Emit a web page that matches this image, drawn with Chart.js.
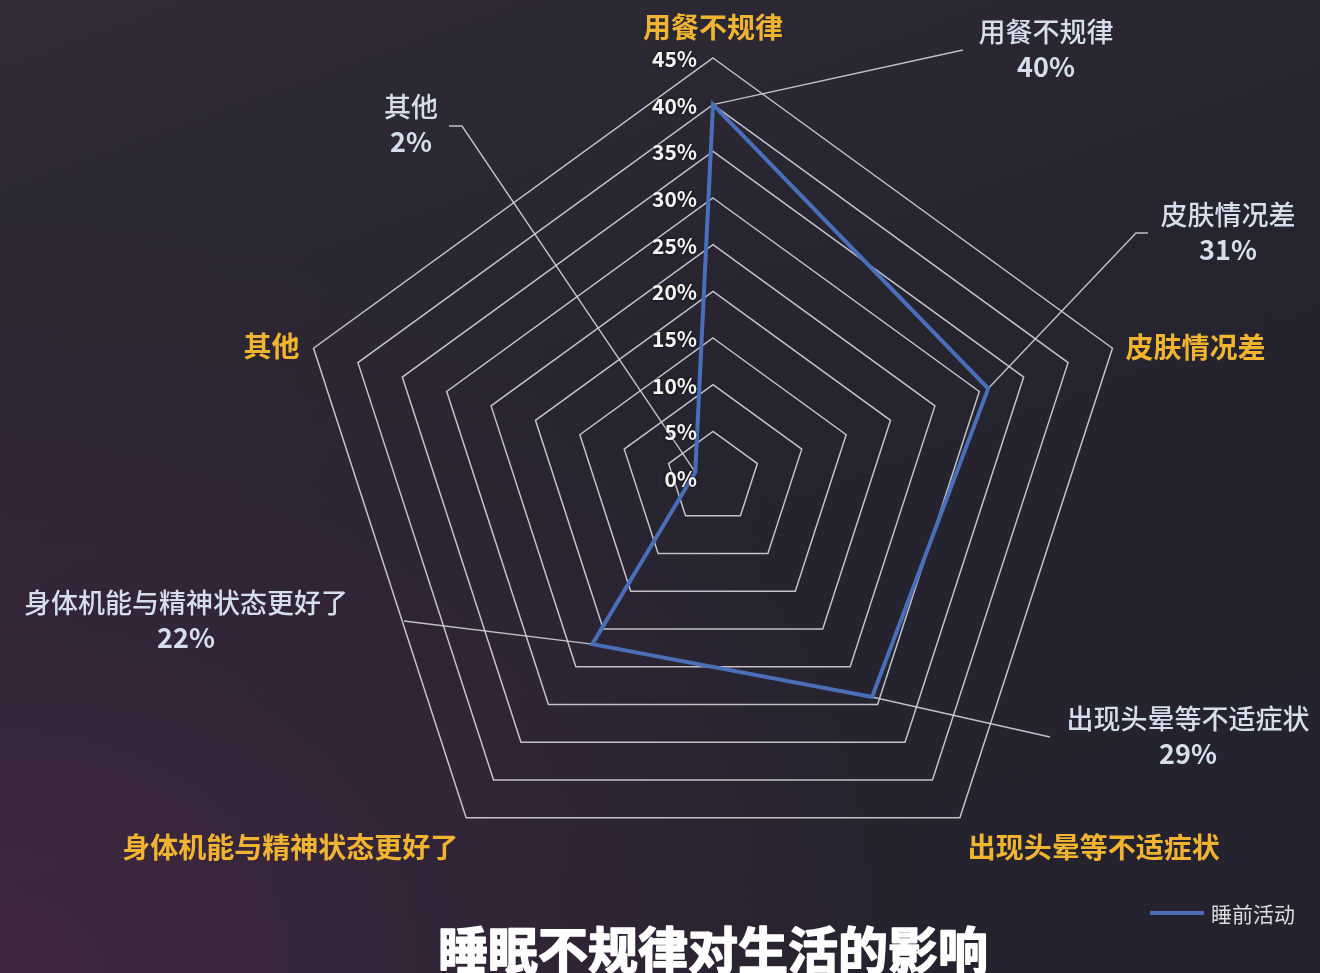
<!DOCTYPE html>
<html>
<head>
<meta charset="utf-8">
<title>睡眠不规律对生活的影响</title>
<script src="https://cdn.jsdelivr.net/npm/chart.js@4.4.1/dist/chart.umd.min.js"></script>
<style>
  html, body { margin: 0; padding: 0; width: 1320px; height: 973px; overflow: hidden; }
  body {
    background:
      radial-gradient(ellipse 950px 760px at 0% 100%, rgba(72, 40, 70, 0.75), rgba(72, 40, 70, 0) 100%),
      linear-gradient(160deg, #302b37 0%, #26242f 45%, #24222e 100%);
  }
  canvas { display: block; }
</style>
</head>
<body>
<canvas id="radar" width="1320" height="973"></canvas>
<script>
// ---- data ----
const categories = ['用餐不规律', '皮肤情况差', '出现头晕等不适症状', '身体机能与精神状态更好了', '其他'];
const seriesName = '睡前活动';
const seriesValues = [40, 31, 29, 22, 2];
const tickValues = [0, 5, 10, 15, 20, 25, 30, 35, 40, 45];
const tickLabels = ['0%', '5%', '10%', '15%', '20%', '25%', '30%', '35%', '40%', '45%'];
const chartTitle = '睡眠不规律对生活的影响';

// ---- layout / style ----
const FONT = '"Noto Sans CJK SC", "Noto Sans", sans-serif';
const COLORS = {
  series: '#4a6fb8',
  grid: 'rgba(212, 212, 218, 0.9)',
  tick: '#f4f4f4',
  category: '#f0b431',
  callout: '#d6ddec',
  leader: 'rgba(210, 210, 215, 0.9)',
  title: '#ffffff',
  legend: '#dcdcdc'
};
// category labels: offset from the outer vertex of each spoke
const categoryPlacement = [
  { dx: 0, dy: -31, align: 'center' },
  { dx: 13, dy: -1, align: 'left' },
  { dx: 8, dy: 30, align: 'left' },
  { dx: -8, dy: 30, align: 'right' },
  { dx: -14, dy: -2, align: 'right' }
];
// value callouts: leader elbows and text block centre
const calloutPlacement = [
  { path: [[963, 50]], x: 1046, y: 32 },
  { path: [[1136, 233], [1148, 233]], x: 1228, y: 215 },
  { path: [[1050, 737]], x: 1188, y: 719 },
  { path: [[404, 621]], x: 186, y: 603 },
  { path: [[462, 126], [449, 126]], x: 411, y: 107 }
];
const CALLOUT_LINE_GAP = 35;

const decorations = {
  id: 'decorations',
  beforeDatasetsDraw(chart) {
    const ctx = chart.ctx;
    const pts = chart.getDatasetMeta(0).data;
    ctx.save();
    ctx.strokeStyle = COLORS.leader;
    ctx.lineWidth = 1.4;
    pts.forEach((p, i) => {
      const c = calloutPlacement[i];
      ctx.beginPath();
      ctx.moveTo(p.x, p.y);
      c.path.forEach(([x, y]) => ctx.lineTo(x, y));
      ctx.stroke();
    });
    ctx.restore();
  },
  afterDraw(chart) {
    const ctx = chart.ctx;
    const r = chart.scales.r;
    ctx.save();

    // radial tick labels, set just left of the vertical spoke
    ctx.font = 'bold 21px ' + FONT;
    ctx.fillStyle = COLORS.tick;
    ctx.textAlign = 'right';
    ctx.textBaseline = 'middle';
    ctx.shadowColor = 'rgba(0,0,0,0.8)';
    ctx.shadowBlur = 3;
    tickValues.forEach((v, i) => {
      const y = r.yCenter - r.getDistanceFromCenterForValue(v);
      ctx.fillText(tickLabels[i], r.xCenter - 16, y + 1);
    });
    ctx.shadowBlur = 0;
    ctx.shadowColor = 'transparent';

    // category names around the outer ring
    ctx.font = 'bold 28px ' + FONT;
    ctx.fillStyle = COLORS.category;
    categories.forEach((name, i) => {
      const pos = r.getPointPosition(i, r.drawingArea);
      const pl = categoryPlacement[i];
      ctx.textAlign = pl.align;
      ctx.fillText(name, pos.x + pl.dx, pos.y + pl.dy);
    });

    // value callouts
    ctx.fillStyle = COLORS.callout;
    ctx.textAlign = 'center';
    categories.forEach((name, i) => {
      const c = calloutPlacement[i];
      ctx.font = '500 27px ' + FONT;
      ctx.fillText(name, c.x, c.y);
      ctx.font = 'bold 27px ' + FONT;
      ctx.fillText(seriesValues[i] + '%', c.x, c.y + CALLOUT_LINE_GAP);
    });

    // legend
    ctx.strokeStyle = COLORS.series;
    ctx.lineWidth = 4;
    ctx.beginPath();
    ctx.moveTo(1150, 913);
    ctx.lineTo(1204, 913);
    ctx.stroke();
    ctx.font = '21px ' + FONT;
    ctx.fillStyle = COLORS.legend;
    ctx.textAlign = 'left';
    ctx.fillText(seriesName, 1211, 914);

    // title, thickened with a matching stroke
    ctx.font = 'bold 50px ' + FONT;
    ctx.fillStyle = COLORS.title;
    ctx.strokeStyle = COLORS.title;
    ctx.lineWidth = 1.6;
    ctx.lineJoin = 'round';
    ctx.textAlign = 'center';
    ctx.fillText(chartTitle, 713, 950);
    ctx.strokeText(chartTitle, 713, 950);

    ctx.restore();
  }
};

new Chart(document.getElementById('radar'), {
  type: 'radar',
  data: {
    labels: categories,
    datasets: [{
      label: seriesName,
      data: seriesValues,
      borderColor: COLORS.series,
      backgroundColor: 'transparent',
      borderWidth: 4,
      pointRadius: 0,
      pointHoverRadius: 0,
      fill: false,
      tension: 0
    }]
  },
  options: {
    responsive: false,
    animation: false,
    events: [],
    layout: { padding: { top: 58, bottom: 75, left: 293, right: 187 } },
    plugins: {
      legend: { display: false },
      title: { display: false },
      tooltip: { enabled: false }
    },
    scales: {
      r: {
        min: 0,
        max: 45,
        ticks: { stepSize: 5, display: false },
        grid: { color: COLORS.grid, lineWidth: 1.5 },
        angleLines: { display: false },
        pointLabels: { display: false }
      }
    }
  },
  plugins: [decorations]
});
</script>
</body>
</html>
